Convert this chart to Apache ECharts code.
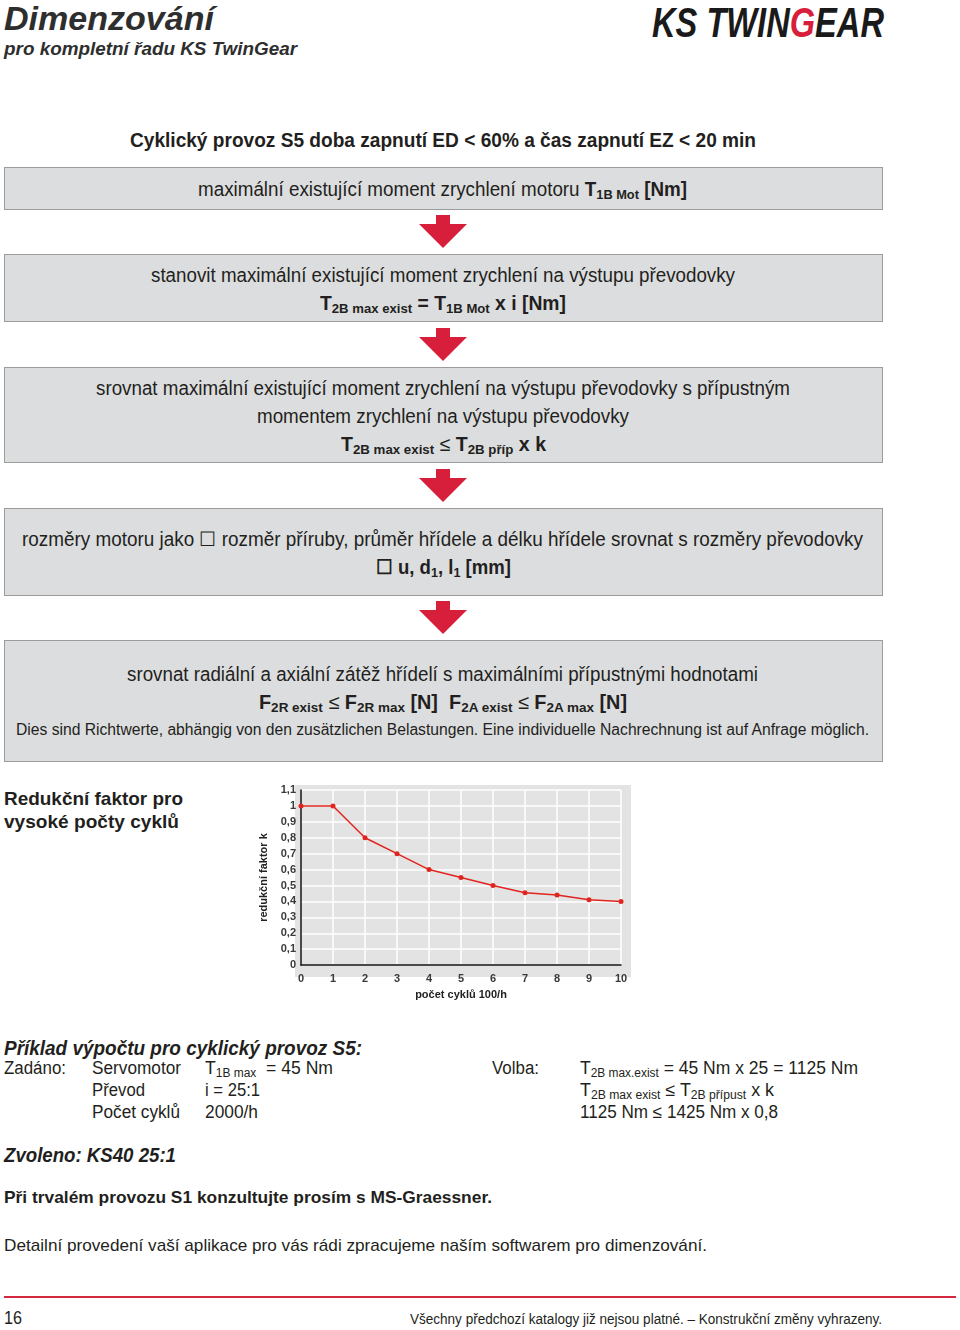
<!DOCTYPE html>
<html><head><meta charset="utf-8">
<script src="https://cdn.jsdelivr.net/npm/echarts/dist/echarts.min.js"></script>
<style>
html,body{margin:0;padding:0}
body{width:960px;height:1330px;background:#fff;position:relative;overflow:hidden;font-family:"Liberation Sans Narrow","Liberation Sans",Arial,sans-serif;color:#231f20}
.t{position:absolute;white-space:nowrap;line-height:1.1;transform-origin:0 50%}
.box{position:absolute;left:4px;width:879px;background:#dcdddf;border:1px solid #9c9c9c;box-sizing:border-box}
.b{font-weight:bold}
.i{font-style:italic}
sub{font-size:0.68em;vertical-align:-0.22em;line-height:0}
#chart{position:absolute;left:250px;top:780px;width:390px;height:225px}
svg.arr{position:absolute;left:419px;width:48px;height:34px}
</style></head><body>
<div id="page"></div>
<div id="chart"></div>
<script>
// ---- data ----
const cycles = [0, 1, 2, 3, 4, 5, 6, 7, 8, 9, 10];
const kFactor = [1, 1, 0.8, 0.7, 0.6, 0.55, 0.5, 0.455, 0.44, 0.41, 0.4];
const yTickLabels = ['0','0,1','0,2','0,3','0,4','0,5','0,6','0,7','0,8','0,9','1','1,1'];
const xTickLabels = ['0','1','2','3','4','5','6','7','8','9','10'];
const yAxisTitle = 'redukční faktor k';
const xAxisTitle = 'počet cyklů 100/h';

// ---- page layout (boxes, arrows, text) ----
const page = document.getElementById('page');
const boxes = [[167,210],[254,322],[367,463],[508,596],[640,762]];
boxes.forEach(([a,b])=>{const d=document.createElement('div');d.className='box';d.style.top=a+'px';d.style.height=(b-a)+'px';page.appendChild(d);});
const arrows = [215,328,469,601];
arrows.forEach(y=>{
  page.insertAdjacentHTML('beforeend',`<svg class="arr" style="top:${y}px" viewBox="0 0 48 34"><polygon points="17,0 31,0 31,9 48,9 24,33 0,9 17,9" fill="#d71f3c"/></svg>`);
});
// red footer line
page.insertAdjacentHTML('beforeend','<div style="position:absolute;left:4px;top:1296px;width:952px;height:2px;background:#d3273e"></div>');

// [html, x, centerY, fontSize, classes, targetWidth, color]
const texts = [
 ['Dimenzování',4,19,34,'b i',210,'#2e2e2e'],
 ['pro kompletní řadu KS TwinGear',4,49,19,'b i',293,'#2e2e2e'],
 ['KS TWIN<span style="color:#d71f3c">G</span>EAR',652,23,42,'b i',232,'#1a1a1a'],
 ['Cyklický provoz S5 doba zapnutí ED &lt; 60% a čas zapnutí EZ &lt; 20 min',130,140,20,'b',626],
 ['maximální existující moment zrychlení motoru <b>T<sub>1B Mot</sub> [Nm]</b>',198,189,20,'',489],
 ['stanovit maximální existující moment zrychlení na výstupu převodovky',151,275,20,'',584],
 ['<b>T<sub>2B max exist</sub> = T<sub>1B Mot</sub> x i [Nm]</b>',320,303,20,'',246],
 ['srovnat maximální existující moment zrychlení na výstupu převodovky s přípustným',96,388,20,'',694],
 ['momentem zrychlení na výstupu převodovky',257,416,20,'',372],
 ['<b>T<sub>2B max exist</sub></b> ≤ <b>T<sub>2B příp</sub> x k</b>',341,444,20,'',205],
 ['rozměry motoru jako ☐ rozměr příruby, průměr hřídele a délku hřídele srovnat s rozměry převodovky',22,539,20,'',841],
 ['<b>☐ u, d<sub>1</sub>, l<sub>1</sub> [mm]</b>',376,567,20,'',135],
 ['srovnat radiální a axiální zátěž hřídelí s maximálními přípustnými hodnotami',127,674,20,'',631],
 ['<b>F<sub>2R exist</sub></b> ≤ <b>F<sub>2R max</sub> [N]</b>&nbsp; <b>F<sub>2A exist</sub></b> ≤ <b>F<sub>2A max</sub> [N]</b>',259,702,20,'',368],
 ['Dies sind Richtwerte, abhängig von den zusätzlichen Belastungen. Eine individuelle Nachrechnung ist auf Anfrage möglich.',16,730,16,'',853],
 ['Redukční faktor pro',4,799,19,'b',179],
 ['vysoké počty cyklů',4,822,19,'b',175],
 ['Příklad výpočtu pro cyklický provoz S5:',4,1048,20,'b i',358],
 ['Zadáno:',4,1069,18,'',62],
 ['Servomotor',92,1069,18,'',89],
 ['T<sub>1B max</sub> &nbsp;= 45 Nm',205,1069,18,'',128],
 ['Převod',92,1091,18,'',53],
 ['i = 25:1',205,1091,18,'',55],
 ['Počet cyklů',92,1113,18,'',88],
 ['2000/h',205,1113,18,'',53],
 ['Volba:',492,1069,18,'',47],
 ['T<sub>2B max.exist</sub> = 45 Nm x 25 = 1125 Nm',580,1069,18,'',278],
 ['T<sub>2B max exist</sub> ≤ T<sub>2B přípust</sub> x k',580,1091,18,'',194],
 ['1125 Nm ≤ 1425 Nm x 0,8',580,1113,18,'',198],
 ['Zvoleno: KS40 25:1',4,1155,20,'b i',172],
 ['Při trvalém provozu S1 konzultujte prosím s MS-Graessner.',4,1198,17,'b',488],
 ['Detailní provedení vaší aplikace pro vás rádi zpracujeme naším softwarem pro dimenzování.',4,1246,17,'',703],
 ['16',4,1319,18,'',18],
 ['Všechny předchozí katalogy již nejsou platné. – Konstrukční změny vyhrazeny.',410,1320,14,'',472]
];
texts.forEach(([h,x,cy,fs,cls,w,col])=>{
  const d=document.createElement('div');
  d.className='t '+cls;
  d.innerHTML=h;
  d.style.left=x+'px';
  d.style.fontSize=fs+'px';
  d.style.top=(cy-0.55*fs)+'px';
  if(col) d.style.color=col;
  page.appendChild(d);
  const nat=d.getBoundingClientRect().width;
  if(nat>0) d.style.transform='scaleX('+(w/nat)+')';
});

// ---- chart ----
const chart = echarts.init(document.getElementById('chart'), null, {renderer:'canvas'});
const labelStyle = {fontFamily:'Liberation Sans, Arial, sans-serif', fontWeight:'bold', fontSize:11, color:'#3a3a3a'};
chart.setOption({
  animation:false,
  backgroundColor:'transparent',
  graphic:[{type:'rect', z:-10, shape:{x:45,y:5,width:336,height:192}, style:{fill:'#e3e3e3'}}],
  grid:{left:45, top:10, width:326, height:182, show:false},
  xAxis:{
    type:'value', min:0, max:10, interval:1,
    name:xAxisTitle, nameLocation:'middle', nameGap:18,
    nameTextStyle:{fontFamily:'Liberation Sans, Arial, sans-serif', fontWeight:'bold', fontSize:11, color:'#222'},
    axisLine:{show:true, onZero:false, lineStyle:{color:'#111', width:1.5}},
    axisTick:{show:false},
    axisLabel:Object.assign({margin:8, formatter:(v)=>xTickLabels[Math.round(v)]}, labelStyle),
    splitLine:{show:true, lineStyle:{color:'#ffffff', width:1.5}}
  },
  yAxis:{
    type:'value', min:0, max:1.1, interval:0.1,
    name:yAxisTitle, nameLocation:'middle', nameGap:32, nameRotate:90,
    nameTextStyle:{fontFamily:'Liberation Sans, Arial, sans-serif', fontWeight:'bold', fontSize:11, color:'#222'},
    axisLine:{show:true, lineStyle:{color:'#111', width:1.5}},
    axisTick:{show:false},
    axisLabel:Object.assign({margin:5, formatter:(v)=>yTickLabels[Math.round(v*10)]}, labelStyle),
    splitLine:{show:true, lineStyle:{color:'#ffffff', width:1.5}}
  },
  series:[{
    type:'line',
    data:cycles.map((c,i)=>[c,kFactor[i]]),
    symbol:'circle', symbolSize:5,
    lineStyle:{color:'#e0251f', width:1.5},
    itemStyle:{color:'#e0251f'},
    clip:false
  }]
});
</script>
</body></html>
